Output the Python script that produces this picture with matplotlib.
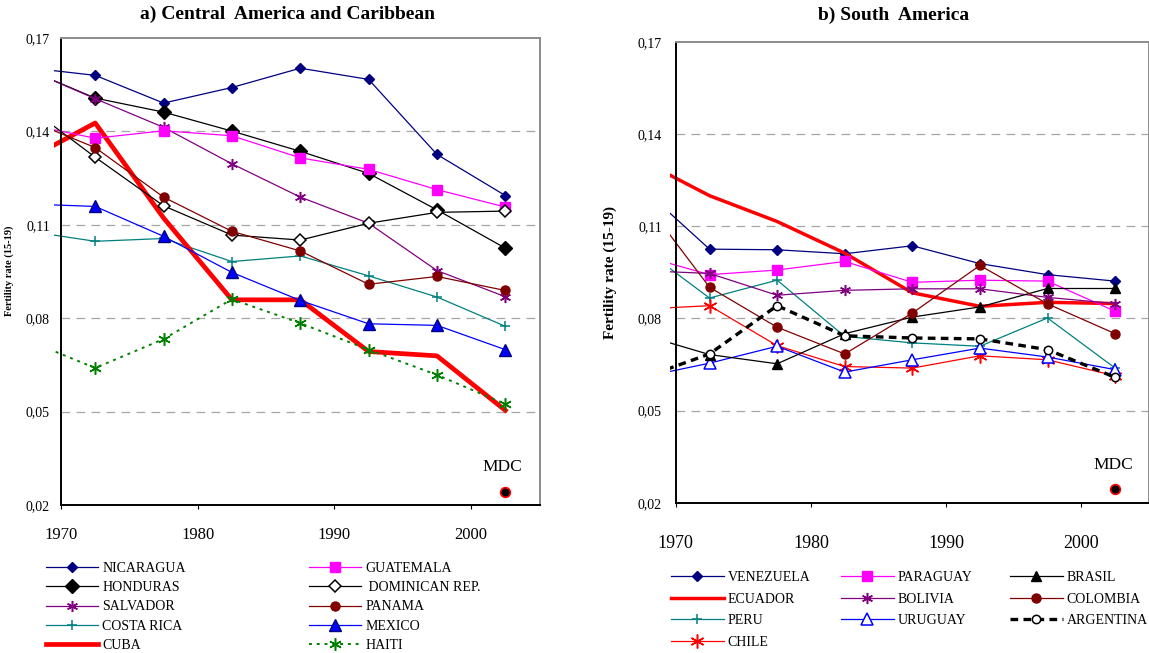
import matplotlib
matplotlib.use('Agg')
import matplotlib.pyplot as plt

# data (first point 1967.5 sits left of the plot and gets clipped)
years = [1967.5, 1972.5, 1977.5, 1982.5, 1987.5, 1992.5, 1997.5, 2002.5]

nicaragua = [0.1605, 0.1580, 0.1491, 0.1541, 0.1603, 0.1567, 0.1326, 0.1194]
guatemala = [0.1423, 0.1378, 0.1402, 0.1386, 0.1315, 0.1278, 0.1213, 0.1157]
honduras = [0.1600, 0.1507, 0.1462, 0.1401, 0.1336, 0.1265, 0.1148, 0.1025]
dominican = [0.1482, 0.1317, 0.1161, 0.1067, 0.1051, 0.1105, 0.1140, 0.1144]
salvador = [0.1600, 0.1505, 0.1413, 0.1296, 0.1189, 0.1105, 0.0953, 0.0869]
panama = [0.1438, 0.1348, 0.1189, 0.1079, 0.1016, 0.0909, 0.0934, 0.0889]
costa_rica = [0.1080, 0.1047, 0.1056, 0.0982, 0.1000, 0.0936, 0.0868, 0.0774]
mexico = [0.1167, 0.1159, 0.1063, 0.0947, 0.0857, 0.0782, 0.0777, 0.0699]
cuba = [0.1309, 0.1427, 0.1122, 0.0859, 0.0859, 0.0693, 0.0679, 0.0504]
haiti = [0.0730, 0.0640, 0.0733, 0.0861, 0.0784, 0.0699, 0.0618, 0.0524]

venezuela = [0.1225, 0.1025, 0.1023, 0.1010, 0.1036, 0.0978, 0.0942, 0.0921]
paraguay = [0.1004, 0.0942, 0.0957, 0.0985, 0.0917, 0.0924, 0.0921, 0.0823]
brasil = [0.0747, 0.0682, 0.0652, 0.0750, 0.0804, 0.0837, 0.0897, 0.0897]
ecuador = [0.1313, 0.1199, 0.1115, 0.1012, 0.0883, 0.0839, 0.0852, 0.0848]
bolivia = [0.0955, 0.0946, 0.0875, 0.0891, 0.0896, 0.0896, 0.0868, 0.0848]
colombia = [0.1192, 0.0901, 0.0771, 0.0684, 0.0817, 0.0972, 0.0847, 0.0750]
peru = [0.1030, 0.0866, 0.0924, 0.0741, 0.0720, 0.0709, 0.0801, 0.0638]
uruguay = [0.0608, 0.0654, 0.0709, 0.0625, 0.0665, 0.0703, 0.0674, 0.0633]
argentina = [0.0605, 0.0684, 0.0841, 0.0743, 0.0736, 0.0733, 0.0698, 0.0608]
chile = [0.0830, 0.0841, 0.0711, 0.0643, 0.0638, 0.0678, 0.0665, 0.0613]

mdc_year = 2002.5
mdc_left = 0.0243
mdc_right = 0.0244

y_ticks = [0.02, 0.05, 0.08, 0.11, 0.14, 0.17]
y_tick_labels = ['0,02', '0,05', '0,08', '0,11', '0,14', '0,17']
x_ticks = [1970, 1980, 1990, 2000]
x_tick_labels = ['1970', '1980', '1990', '2000']

W, H = 1149, 653
plt.rcParams['font.family'] = ['Liberation Serif', 'DejaVu Serif']
fig = plt.figure(figsize=(W / 100, H / 100), dpi=100)


def px_box(x0, ytop, w, h):
    return [x0 / W, 1 - (ytop + h) / H, w / W, h / H]


ax1 = fig.add_axes(px_box(54.2, 38, 485.3, 467))
ax2 = fig.add_axes(px_box(670.3, 41.7, 478.6, 461))


def style_axes(ax, xmin, yfs, xfs, ypad, xpad):
    ax.set_xlim(xmin, 2005)
    ax.set_ylim(0.02, 0.17)
    ax.set_yticks(y_ticks)
    ax.set_yticklabels(y_tick_labels, fontsize=yfs)
    ax.set_xticks(x_ticks)
    ax.set_xticklabels(x_tick_labels, fontsize=xfs)
    ax.spines['left'].set_position(('data', 1970))
    ax.spines['top'].set_bounds(1970, 2005)
    ax.spines['bottom'].set_bounds(1970, 2005)
    for s in ['left', 'bottom']:
        ax.spines[s].set_color('black')
        ax.spines[s].set_linewidth(1.4)
    for s in ['top', 'right']:
        ax.spines[s].set_color('#8c8c8c')
        ax.spines[s].set_linewidth(1.4)
    ax.hlines(y_ticks[1:-1], 1970, 2005, colors='#a6a6a6',
              linestyles=(0, (7, 5)), linewidth=0.9, zorder=0)
    ax.tick_params(axis='y', length=0, pad=ypad)
    ax.tick_params(axis='x', direction='out', length=3, pad=xpad)
    ax.set_facecolor('none')


style_axes(ax1, 1969.5, 9, 12, 8, 13)
style_axes(ax2, 1969.6, 12, 13, 10, 20)

thin = 0.9

# left panel, ordered column by column for the legend
left_lines = [
    ax1.plot(years, nicaragua, color='#000080', lw=thin, marker='D', ms=5, label='NICARAGUA')[0],
    ax1.plot(years, honduras, color='black', lw=thin, marker='D', ms=7, label='HONDURAS')[0],
    ax1.plot(years, salvador, color='#800080', lw=thin, marker=(6, 2, 0), ms=8, mew=1.1, label='SALVADOR')[0],
    ax1.plot(years, costa_rica, color='#008080', lw=thin, marker='+', ms=7, mew=1.1, label='COSTA RICA')[0],
    ax1.plot(years, cuba, color='#ff0000', lw=3.4, label='CUBA')[0],
    ax1.plot(years, guatemala, color='#ff00ff', lw=thin, marker='s', ms=6.5, label='GUATEMALA')[0],
    ax1.plot(years, dominican, color='black', lw=thin, marker='D', ms=6.5, mfc='white', mec='black', mew=1.1, label=' DOMINICAN REP.')[0],
    ax1.plot(years, panama, color='#800000', lw=thin, marker='o', ms=6.5, label='PANAMA')[0],
    ax1.plot(years, mexico, color='#0000ff', lw=thin, marker='^', ms=8, mec='#000080', label='MEXICO')[0],
    ax1.plot(years, haiti, color='#008000', lw=1.4, ls=(0, (1.5, 2.5)), marker=(6, 2, 0), ms=9, mew=1.1, label='HAITI')[0],
]
ax1.plot([mdc_year], [mdc_left], ls='none', marker='o', ms=7, mfc='black', mec='red', mew=1.2)
ax1.text(mdc_year - 0.25, 0.0323, 'MDC', ha='center', va='center', fontsize=12.5)

right_lines = [
    ax2.plot(years, venezuela, color='#000080', lw=thin, marker='D', ms=5, label='VENEZUELA')[0],
    ax2.plot(years, ecuador, color='#ff0000', lw=2.5, label='ECUADOR')[0],
    ax2.plot(years, peru, color='#008080', lw=thin, marker='+', ms=7, mew=1.1, label='PERU')[0],
    ax2.plot(years, chile, color='#ff0000', lw=thin, marker=(6, 2, 0), ms=10, mew=1.1, label='CHILE')[0],
    ax2.plot(years, paraguay, color='#ff00ff', lw=thin, marker='s', ms=6.5, label='PARAGUAY')[0],
    ax2.plot(years, bolivia, color='#800080', lw=thin, marker=(6, 2, 0), ms=8, mew=1.1, label='BOLIVIA')[0],
    ax2.plot(years, uruguay, color='#0000ff', lw=thin, marker='^', ms=8, mfc='white', mec='#0000ff', mew=1.1, label='URUGUAY')[0],
    ax2.plot(years, brasil, color='black', lw=thin, marker='^', ms=7, label='BRASIL')[0],
    ax2.plot(years, colombia, color='#800000', lw=thin, marker='o', ms=6.5, label='COLOMBIA')[0],
    ax2.plot(years, argentina, color='black', lw=2.4, ls=(0, (2.3, 1.6)), marker='o', ms=6, mfc='white', mec='black', mew=1.1, label='ARGENTINA')[0],
]
ax2.plot([mdc_year], [mdc_right], ls='none', marker='o', ms=7, mfc='black', mec='red', mew=1.2)
ax2.text(mdc_year - 0.1, 0.0323, 'MDC', ha='center', va='center', fontsize=12.5)

# titles and y labels
fig.text(288 / W, 1 - 14 / H, 'a) Central  America and Caribbean', ha='center', va='center',
         fontsize=14, fontweight='bold')
fig.text(894 / W, 1 - 15 / H, 'b) South  America', ha='center', va='center',
         fontsize=14, fontweight='bold')
fig.text(9 / W, 1 - 271 / H, 'Fertility rate (15-19)', rotation=90, ha='center', va='center',
         fontsize=7.5, fontweight='bold')
fig.text(610 / W, 1 - 272 / H, 'Fertility rate (15-19)', rotation=90, ha='center', va='center',
         fontsize=11, fontweight='bold')


def column_legend(lines, x_left, y_top, fs, hl, pad, spacing):
    fig.legend(handles=lines, labels=[l.get_label() for l in lines], loc='upper left',
               bbox_to_anchor=(x_left / W, 1 - y_top / H), frameon=False, borderpad=0,
               borderaxespad=0, handlelength=hl, handletextpad=pad, labelspacing=spacing,
               fontsize=fs, numpoints=1)


column_legend(left_lines[:5], 46, 562, 10, 3.74, 0.3, 0.45)
column_legend(left_lines[5:], 309, 562, 10, 3.74, 0.3, 0.45)
column_legend(right_lines[:4], 671, 571, 10, 3.8, 0.27, 0.62)
column_legend(right_lines[4:7], 841, 571, 10, 3.8, 0.27, 0.62)
column_legend(right_lines[7:], 1010, 571, 10, 3.8, 0.27, 0.62)

fig.savefig('out.png', dpi=100)
